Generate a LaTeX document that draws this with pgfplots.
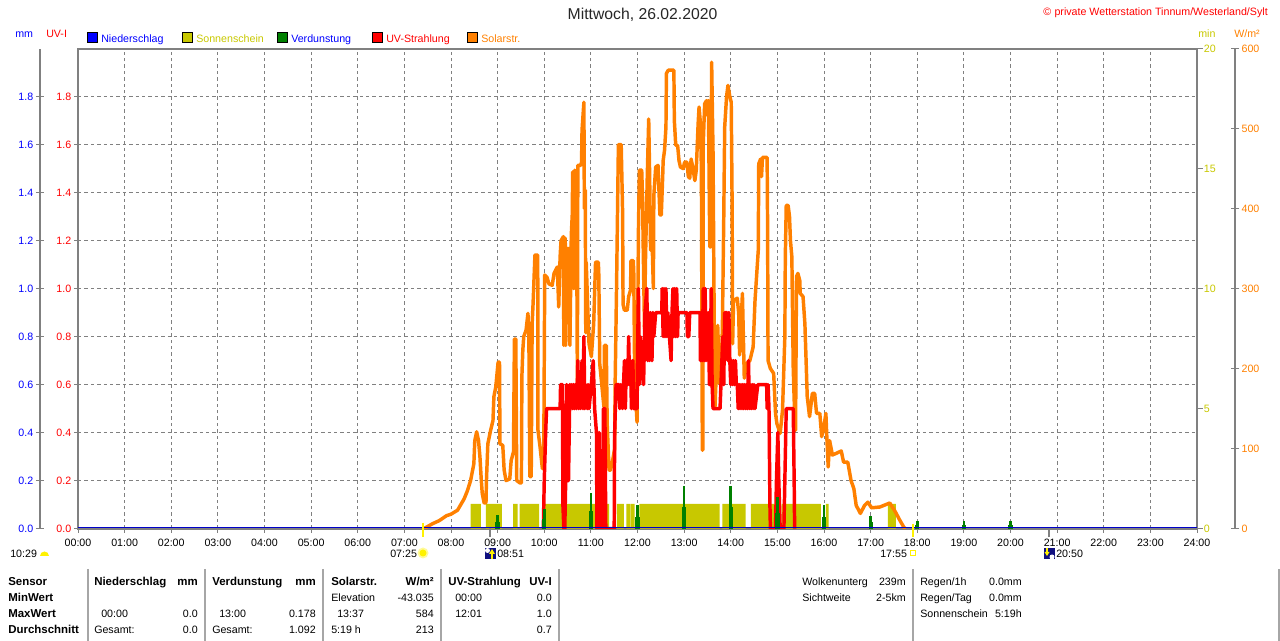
\documentclass[border=0pt]{standalone}
\usepackage{pgfplots}
\pgfplotsset{compat=1.18}
\usepackage{fontspec}
\setmainfont{Liberation Sans}
\definecolor{gr}{RGB}{128,128,128}
\definecolor{sun}{RGB}{200,200,0}
\definecolor{sol}{RGB}{255,128,0}
\definecolor{vd}{RGB}{0,128,0}
\definecolor{nv}{RGB}{16,16,128}
\newcommand{\f}{\fontsize{8}{9.6}\selectfont}
\newcommand{\tl}[4]{\node[anchor=base west,inner sep=0pt,text=#3,font=\f] at ({#1*0.75pt},{(641-#2-5)*0.75pt}) {#4};}
\newcommand{\tr}[4]{\node[anchor=base east,inner sep=0pt,text=#3,font=\f] at ({#1*0.75pt},{(641-#2-5)*0.75pt}) {#4};}
\newcommand{\bt}[3]{\node[anchor=base west,inner sep=0pt,font=\fontsize{8.6}{10}\selectfont\bfseries] at ({#1*0.75pt},{(641-#2-5)*0.75pt}) {#3};}
\newcommand{\btr}[3]{\node[anchor=base east,inner sep=0pt,font=\fontsize{8.6}{10}\selectfont\bfseries] at ({#1*0.75pt},{(641-#2-5)*0.75pt}) {#3};}
\newcommand{\sq}[3]{\fill[#3,draw=black,line width=0.75pt] ({#1*0.75pt-3.75pt},{(641-#2)*0.75pt-3.75pt}) rectangle ++(7.5pt,7.5pt);}
\newcommand{\vl}[4]{\draw[#4] ({#1*0.75pt},{(641-#2)*0.75pt}) -- ({#1*0.75pt},{(641-#3)*0.75pt});}
\pgfplotsset{ov/.style={at={(58.5pt,84.3pt)},anchor=south west,width=839.25pt,height=360pt,scale only axis,xmin=0,xmax=24,hide axis}}
\pgfplotsset{nf/.style={/pgf/number format/assume math mode=true,/pgf/number format/fixed,/pgf/number format/fixed zerofill,/pgf/number format/precision=1},
 nfi/.style={/pgf/number format/assume math mode=true,/pgf/number format/fixed,/pgf/number format/fixed zerofill=false,/pgf/number format/precision=0}}
\pgfplotsset{side/.style={anchor=south west,width=0.75pt,height=360pt,scale only axis,xmin=0,xmax=1,hide x axis,axis y line*=left,
 axis line style={draw=gr,line width=0.9pt,-},tick style={draw=gr,line width=0.75pt},tick align=center,major tick length=6pt,
 scaled y ticks=false}}
\pgfplotstableread{
t W
7.42 0
7.48 2
7.6 6
7.75 10
7.9 16
8.0 18
8.14 23
8.21 30
8.28 37
8.35 47
8.42 60
8.49 81
8.51 110
8.55 121
8.59 110
8.62 90
8.65 60
8.67 44
8.71 32
8.75 32
8.76 60
8.79 106
8.85 123
8.9 135
8.92 165
8.96 177
9.01 208
9.04 208
9.05 106
9.11 104
9.14 73
9.18 60
9.26 62
9.29 85
9.34 96
9.36 237
9.39 237
9.41 60
9.48 57
9.51 57
9.52 190
9.54 223
9.56 240
9.61 248
9.65 269
9.67 240
9.69 65
9.72 65
9.74 256
9.76 281
9.8 342
9.86 342
9.865 123
9.91 102
9.96 75
9.99 100
10.01 317
10.06 314
10.1 306
10.17 304
10.21 319
10.28 327
10.31 277
10.34 340
10.36 360
10.41 365
10.42 229
10.44 350
10.45 363
10.46 229
10.49 350
10.54 350
10.55 229
10.58 367
10.6 392
10.61 446
10.63 300
10.65 448
10.67 300
10.69 448
10.71 180
10.72 454
10.78 454
10.8 458
10.81 498
10.85 533
10.86 400
10.88 423
10.89 245
10.9 333
10.92 298
10.96 231
11.01 215
11.06 256
11.1 333
11.16 333
11.17 317
11.19 206
11.28 152
11.29 229
11.33 229
11.35 130
11.39 73
11.42 73
11.46 83
11.51 100
11.52 180
11.55 300
11.59 480
11.65 480
11.68 396
11.69 280
11.72 273
11.78 273
11.81 290
11.85 298
11.86 335
11.91 335
11.92 319
11.94 185
11.99 133
12.01 300
12.02 373
12.04 448
12.09 448
12.11 410
12.12 360
12.15 250
12.17 333
12.21 442
12.24 512
12.26 442
12.28 348
12.31 365
12.34 300
12.35 416
12.39 452
12.44 454
12.48 392
12.51 392
12.54 440
12.55 460
12.58 473
12.61 502
12.62 569
12.66 573
12.78 573
12.79 510
12.82 479
12.86 479
12.89 460
12.92 452
12.98 450
13.01 458
13.06 458
13.09 440
13.12 438
13.15 462
13.19 450
13.23 435
13.26 448
13.3 506
13.32 527
13.35 506
13.37 450
13.39 98
13.4 98
13.41 481
13.44 531
13.48 535
13.49 517
13.52 535
13.55 352
13.57 352
13.59 583
13.62 469
13.64 300
13.66 150
13.69 194
13.72 254
13.76 181
13.79 181
13.82 250
13.85 390
13.87 502
13.91 540
13.94 554
13.98 540
14.01 533
14.03 400
14.04 231
14.06 285
14.14 288
14.17 269
14.19 217
14.25 294
14.29 188
14.34 206
14.41 210
14.48 227
14.52 285
14.59 348
14.6 456
14.64 462
14.66 440
14.68 464
14.78 464
14.79 377
14.8 210
14.85 200
14.92 194
14.96 144
14.99 131
15.06 119
15.11 148
15.16 240
15.17 340
15.19 404
15.23 404
15.26 390
15.28 360
15.31 340
15.34 200
15.38 123
15.39 123
15.41 315
15.44 319
15.48 310
15.49 294
15.55 290
15.59 256
15.62 202
15.64 165
15.69 140
15.75 169
15.8 169
15.84 144
15.91 144
15.95 115
16 128
16.04 144
16.06 115
16.09 77
16.12 110
16.18 92
16.26 94
16.37 97
16.42 83
16.51 83
16.58 60
16.64 50
16.69 29
16.78 19
16.87 29
16.94 33
17.02 26
17.2 27
17.41 32
17.52 22
17.63 10
17.72 1
17.75 0
}\solar
\pgfplotstableread{
t v
9.98 0
10.0 .2
10.03 .4
10.05 .5
10.34 .5
10.35 .6
10.39 .6
10.40 .1
10.42 0
10.44 0
10.46 .2
10.48 .6
10.49 .2
10.52 .2
10.55 .6
10.57 .5
10.59 .6
10.61 .5
10.63 .6
10.65 .5
10.67 .6
10.69 .5
10.71 .6
10.72 .7
10.74 .5
10.76 .6
10.78 .5
10.81 .7
10.83 .5
10.85 .8
10.87 .5
10.89 .6
10.92 .5
10.94 .6
10.96 .5
11.01 .6
11.05 .7
11.08 .5
11.12 .4
11.13 0
11.17 0
11.18 .4
11.21 0
11.26 0
11.27 .5
11.3 .5
11.32 0
11.5 0
11.51 .4
11.54 .6
11.6 .6
11.62 .5
11.64 .6
11.68 .5
11.7 .6
11.72 .7
11.74 .5
11.76 .7
11.79 .6
11.81 .8
11.83 .6
11.85 .7
11.87 .5
11.9 .7
11.92 .5
11.99 .5
12.0 .7
12.02 1.0
12.04 .6
12.06 .8
12.09 .7
12.13 .6
12.16 .9
12.2 1.0
12.22 .7
12.24 .9
12.26 .7
12.28 .9
12.31 .7
12.33 .9
12.35 .8
12.39 .9
12.52 .9
12.53 1.0
12.55 .8
12.57 1.0
12.59 .8
12.61 1.0
12.63 .8
12.65 .9
12.72 .7
12.74 .9
12.76 1.0
12.78 .8
12.8 1.0
12.82 .8
12.84 1.0
12.86 .8
12.87 .9
13.06 .9
13.07 .8
13.1 .8
13.12 .9
13.34 .9
13.35 .7
13.37 .9
13.39 .7
13.41 1.0
13.43 .7
13.45 1.0
13.47 .7
13.49 .9
13.51 .7
13.53 .9
13.54 .6
13.55 .9
13.56 .6
13.58 1.0
13.6 .6
13.62 .5
13.77 .5
13.79 .6
13.81 .7
13.83 .8
13.85 .6
13.87 .9
13.92 .9
13.94 .7
13.96 .9
13.98 .7
14.0 .6
14.02 .7
14.04 .6
14.06 .7
14.08 .6
14.1 .7
14.12 .6
14.14 .6
14.16 .5
14.18 .6
14.2 .5
14.22 .6
14.24 .5
14.26 .6
14.28 .5
14.3 .6
14.32 .5
14.34 .6
14.36 .5
14.38 .7
14.4 .5
14.42 .6
14.44 .5
14.46 .6
14.48 .5
14.5 .6
14.52 .5
14.58 .6
14.77 .6
14.78 .5
14.8 .6
14.82 .5
14.84 .1
14.85 0
14.96 0
14.98 .2
15.01 .4
15.03 .2
15.06 0
15.14 0
15.16 .2
15.18 .4
15.19 .5
15.34 .5
15.36 .2
15.37 0
}\uvi
\begin{document}
\begin{tikzpicture}
\path[use as bounding box] (0,0) rectangle (960pt,480.75pt);
% main axis: frame, grid, UV-I ticks, hour ticks
\begin{axis}[at={(58.5pt,84.3pt)},anchor=south west,width=839.25pt,height=360pt,scale only axis,
 xmin=0,xmax=24,ymin=0,ymax=2,
 xtick={0,1,...,24},xticklabels={00:00,01:00,02:00,03:00,04:00,05:00,06:00,07:00,08:00,09:00,10:00,11:00,12:00,13:00,14:00,15:00,16:00,17:00,18:00,19:00,20:00,21:00,22:00,23:00,24:00},
 ytick={0,0.2,0.4,0.6,0.8,1.0,1.2,1.4,1.6,1.8},
 tick pos=left,tick align=outside,major tick length=3pt,
 axis line style={draw=gr,line width=1.5pt},tick style={draw=gr,line width=0.75pt},
 grid=major,major grid style={draw=gr,line width=0.75pt,dash pattern=on 2.6pt off 2.2pt},
 scaled y ticks=false,
 xticklabel style={font=\f,yshift=-1.5pt},
 yticklabel style={font=\f,text=red,xshift=1.5pt,nf}]
\end{axis}
% left mm axis
\begin{axis}[side,at={(30pt,84.3pt)},ymin=0,ymax=2,ytick={0,0.2,0.4,0.6,0.8,1.0,1.2,1.4,1.6,1.8},yticklabel style={font=\f,text=blue,xshift=1.5pt,nf}]
\end{axis}
% right min axis ticks and labels
\begin{axis}[side,at={(897.75pt,84.3pt)},axis y line*=right,ymin=0,ymax=20,ytick={0,5,10,15,20},tick align=outside,major tick length=3.5pt,axis line style={draw=none},yticklabel style={font=\f,text=sun,xshift=-2.6pt,nfi}]
\end{axis}
% right W/m2 axis
\begin{axis}[side,at={(925.5pt,84.3pt)},axis y line*=right,ymin=0,ymax=600,ytick={0,100,200,300,400,500,600},yticklabel style={font=\f,text=sol,xshift=-1.6pt,nfi}]
\end{axis}
% sunshine minutes
\begin{axis}[ov,ymin=0,ymax=20]
\addplot[fill=sun,draw=none] coordinates {
(8.42,0)(8.42,1.03)(8.64,1.03)(8.64,0)
(8.75,0)(8.75,1.03)(9.09,1.03)(9.09,0)
(9.33,0)(9.33,1.03)(9.43,1.03)(9.43,0)
(9.47,0)(9.47,1.03)(9.89,1.03)(9.89,0)
(9.96,0)(9.96,1.03)(11.39,1.03)(11.39,0)
(11.56,0)(11.56,1.03)(11.71,1.03)(11.71,0)
(11.76,0)(11.76,1.03)(11.84,1.03)(11.84,0)
(11.85,0)(11.85,1.03)(11.94,1.03)(11.94,0)
(12.04,0)(12.04,1.03)(13.76,1.03)(13.76,0)
(13.82,0)(13.82,1.03)(14.32,1.03)(14.32,0)
(14.43,0)(14.43,1.03)(14.94,1.03)(14.94,0)
(15.09,0)(15.09,1.03)(15.93,1.03)(15.93,0)
(16.04,0)(16.04,1.03)(16.1,1.03)(16.1,0)
(17.37,0)(17.37,1.03)(17.54,1.03)(17.54,0)
};
\end{axis}
% solar radiation
\begin{axis}[ov,ymin=0,ymax=600]
\addplot[sol,line width=2.6pt,line join=round,no markers] table[x=t,y=W] {\solar};
\end{axis}
% UV index, evaporation, precipitation
\begin{axis}[ov,ymin=0,ymax=2]
\addplot[red,line width=2.6pt,line join=round,no markers] table[x=t,y=v] {\uvi};
\addplot[ycomb,vd,line width=3.2pt,no markers] coordinates {(9,0.028)(10,0.04)(11,0.075)(12,0.05)(13,0.09)(14,0.09)(15,0.065)(16,0.05)(17,0.027)(18,0.015)(19,0.015)(20,0.015)};
\addplot[ycomb,vd,line width=2pt,no markers] coordinates {(9,0.056)(10,0.08)(11,0.15)(12,0.1)(13,0.178)(14,0.178)(15,0.13)(16,0.1)(17,0.054)(18,0.03)(19,0.03)(20,0.03)};
\addplot[color={rgb,255:red,0;green,0;blue,200},line width=0.75pt,no markers] coordinates {(0,0.006)(24,0.006)};
\end{axis}
% header texts
\node[font=\fontsize{11.8}{14}\selectfont,text=black!85,anchor=base] at ({642.5*0.75pt},{(641-20)*0.75pt}) {Mittwoch, 26.02.2020};
\tr{1268}{11}{red}{©\hspace{2.5pt}private Wetterstation Tinnum/Westerland/Sylt}
\tl{15}{33}{blue}{mm}
\tl{46}{33}{red}{UV-I}
\tl{1198}{33}{sun}{min}
\tl{1234}{33}{sol}{W/m²}
\sq{92}{38}{blue}\tl{101}{38}{blue}{Niederschlag}
\sq{187}{38}{sun}\tl{196}{38}{sun}{Sonnenschein}
\sq{282}{38}{vd}\tl{291}{38}{blue}{Verdunstung}
\sq{377}{38}{red}\tl{386}{38}{red}{UV-Strahlung}
\sq{472}{38}{sol}\tl{481}{38}{sol}{Solarstr.}
% sunrise, sunset, moon
\vl{423}{523}{537}{yellow,line width=1.5pt}
\vl{913}{524}{537}{yellow,line width=1.5pt}
\vl{490}{528}{537}{gr,line width=1.5pt}
\vl{1049}{528}{537}{gr,line width=1.5pt}
\tl{10}{553}{black}{10:29}
\fill[yellow] ({40*0.75pt},{(641-556)*0.75pt}) arc (180:0:{4.5*0.75pt}) -- cycle;
\tl{390}{553}{black}{07:25}
\fill[yellow!40] ({423*0.75pt},{(641-553)*0.75pt}) circle ({5.5*0.75pt});
\fill[yellow] ({423*0.75pt},{(641-553)*0.75pt}) circle ({3.5*0.75pt});
\fill[nv] ({485*0.75pt},{(641-559)*0.75pt}) rectangle ({496*0.75pt},{(641-548)*0.75pt});
\fill[white] ({487.5*0.75pt},{(641-550.5)*0.75pt}) circle ({2.5*0.75pt});
\draw[yellow,line width=1.5pt] ({492*0.75pt},{(641-559)*0.75pt}) -- ({492*0.75pt},{(641-552)*0.75pt});
\fill[yellow] ({489*0.75pt},{(641-554)*0.75pt}) -- ({495*0.75pt},{(641-554)*0.75pt}) -- ({492*0.75pt},{(641-549)*0.75pt}) -- cycle;
\tl{497}{553}{black}{08:51}
\tl{880}{553}{black}{17:55}
\draw[yellow,line width=0.75pt] ({910.5*0.75pt},{(641-555.5)*0.75pt}) rectangle ({915.5*0.75pt},{(641-550.5)*0.75pt});
\fill[nv] ({1044*0.75pt},{(641-559)*0.75pt}) rectangle ({1055*0.75pt},{(641-548)*0.75pt});
\fill[white] ({1052*0.75pt},{(641-557)*0.75pt}) circle ({2.5*0.75pt});
\draw[yellow,line width=1.5pt] ({1047*0.75pt},{(641-548)*0.75pt}) -- ({1047*0.75pt},{(641-553)*0.75pt});
\fill[yellow] ({1044.5*0.75pt},{(641-552)*0.75pt}) -- ({1049.5*0.75pt},{(641-552)*0.75pt}) -- ({1047*0.75pt},{(641-556)*0.75pt}) -- cycle;
\tl{1056}{553}{black}{20:50}
% table separators
\foreach \xx in {88,205,323,441,559,913,1279} {\vl{\xx}{569}{641}{gray!70,line width=0.9pt}}
% table
\bt{8}{581}{Sensor}
\bt{8}{597}{MinWert}
\bt{8}{613}{MaxWert}
\bt{8}{629}{Durchschnitt}
\bt{94}{581}{Niederschlag}\btr{198}{581}{mm}
\bt{212}{581}{Verdunstung}\btr{316}{581}{mm}
\bt{331}{581}{Solarstr.}\btr{434}{581}{W/m²}
\bt{448}{581}{UV-Strahlung}\btr{552}{581}{UV-I}
\tl{331}{597}{black}{Elevation}\tr{434}{597}{black}{-43.035}
\tl{455}{597}{black}{00:00}\tr{552}{597}{black}{0.0}
\tl{101}{613}{black}{00:00}\tr{198}{613}{black}{0.0}
\tl{219}{613}{black}{13:00}\tr{316}{613}{black}{0.178}
\tl{337}{613}{black}{13:37}\tr{434}{613}{black}{584}
\tl{455}{613}{black}{12:01}\tr{552}{613}{black}{1.0}
\tl{94}{629}{black}{Gesamt:}\tr{198}{629}{black}{0.0}
\tl{212}{629}{black}{Gesamt:}\tr{316}{629}{black}{1.092}
\tl{331}{629}{black}{5:19 h}\tr{434}{629}{black}{213}
\tr{552}{629}{black}{0.7}
\tl{802}{581}{black}{Wolkenunterg}\tr{906}{581}{black}{239m}
\tl{802}{597}{black}{Sichtweite}\tr{906}{597}{black}{2-5km}
\tl{920}{581}{black}{Regen/1h}\tr{1022}{581}{black}{0.0mm}
\tl{920}{597}{black}{Regen/Tag}\tr{1022}{597}{black}{0.0mm}
\tl{920}{613}{black}{Sonnenschein}\tr{1022}{613}{black}{5:19h}
\end{tikzpicture}
\end{document}
